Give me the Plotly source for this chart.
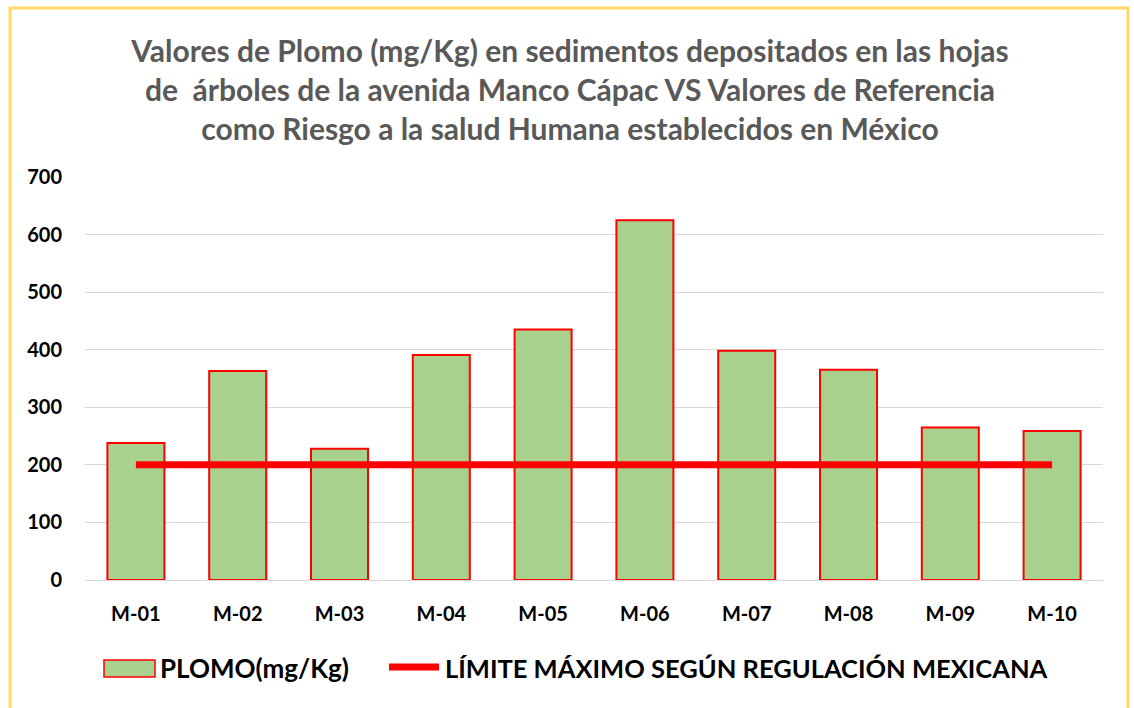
''' Plomo en sedimentos vs limite de referencia (Mexico) '''

import plotly.graph_objects as go

# Data
MUESTRAS = ['M-01', 'M-02', 'M-03', 'M-04', 'M-05', 'M-06', 'M-07', 'M-08', 'M-09', 'M-10']
PLOMO = [238, 363, 228, 391, 435, 625, 398, 365, 265, 259]
LIMITE = [200, 200, 200, 200, 200, 200, 200, 200, 200, 200]
Y_TICKS = [0, 100, 200, 300, 400, 500, 600, 700]

SERIE_BARRAS = 'PLOMO(mg/Kg)'
SERIE_LINEA = 'LÍMITE MÁXIMO SEGÚN REGULACIÓN MEXICANA'
TITLE = ('<b>Valores de Plomo (mg/Kg) en sedimentos depositados en las hojas<br>'
         'de  árboles de la avenida Manco Cápac VS Valores de Referencia<br>'
         'como Riesgo a la salud Humana establecidos en México</b>')

FONT = 'Lato, Calibri, Arial, sans-serif'
GREEN = '#A9D18E'
RED = '#FF0000'
W, H = 1134, 708
M_L, M_R, M_T, M_B = 85, 31, 177, 128  # margins -> plot area 85..1103 x 177..580
PW, PH = W - M_L - M_R, H - M_T - M_B


def px_x(p):
    ''' page pixel x -> paper x '''
    return (p - M_L) / PW


def px_y(p):
    ''' page pixel y -> paper y '''
    return (H - M_B - p) / PH


fig = go.Figure()
fig.add_trace(go.Bar(
    x=MUESTRAS,
    y=PLOMO,
    name=SERIE_BARRAS,
    marker=dict(color=GREEN, line=dict(color=RED, width=2)),
))
fig.add_trace(go.Scatter(
    x=MUESTRAS,
    y=LIMITE,
    name=SERIE_LINEA,
    mode='lines',
    line=dict(color=RED, width=7),
))

# Yellow frame around the whole chart
fig.add_shape(type='rect', xref='paper', yref='paper',
              x0=px_x(10), x1=px_x(1128), y0=px_y(730), y1=px_y(8),
              line=dict(color='#FFD966', width=3), layer='below')

# Legend drawn like the original (wide swatches)
fig.add_shape(type='rect', xref='paper', yref='paper',
              x0=px_x(104), x1=px_x(155), y0=px_y(677), y1=px_y(660),
              fillcolor=GREEN, line=dict(color=RED, width=1.5))
fig.add_shape(type='line', xref='paper', yref='paper',
              x0=px_x(389), x1=px_x(439), y0=px_y(667), y1=px_y(667),
              line=dict(color=RED, width=7))
fig.add_annotation(text=f'<b>{SERIE_BARRAS}</b>', xref='paper', yref='paper',
                   x=px_x(158), y=px_y(668), xanchor='left', yanchor='middle',
                   showarrow=False, font=dict(family=FONT, size=26, color='#000000'))
fig.add_annotation(text=f'<b>{SERIE_LINEA}</b>', xref='paper', yref='paper',
                   x=px_x(443), y=px_y(668), xanchor='left', yanchor='middle',
                   showarrow=False, font=dict(family=FONT, size=25.5, color='#000000'))

fig.update_layout(
    width=W, height=H,
    margin=dict(l=M_L, r=M_R, t=M_T, b=M_B),
    paper_bgcolor='white',
    plot_bgcolor='white',
    font=dict(family=FONT, color='#000000'),
    title=dict(text=TITLE, x=px_x(570), xanchor='center', xref='paper',
               y=1 - 62 / H, yanchor='top', yref='container',
               font=dict(family=FONT, size=30, color='#595959')),
    bargap=0.44,
    showlegend=False,
)

fig.update_xaxes(
    tickvals=MUESTRAS, ticktext=[f'<b>{m}</b>' for m in MUESTRAS],
    showgrid=False, showline=True, linecolor='#D9D9D9', linewidth=1,
    tickfont=dict(family=FONT, size=20, color='#000000'),
    ticklabelstandoff=16, ticks='',
)
fig.update_yaxes(
    range=[0, 700], tickvals=Y_TICKS, ticktext=[f'<b>{v}</b>' for v in Y_TICKS],
    showgrid=True, gridcolor='#D9D9D9', gridwidth=1, zeroline=False,
    tickfont=dict(family=FONT, size=20, color='#000000'),
    ticklabelstandoff=22,
)

fig.write_html('out.html', config={'displayModeBar': False},
               post_script="document.body.style.margin='0';")
